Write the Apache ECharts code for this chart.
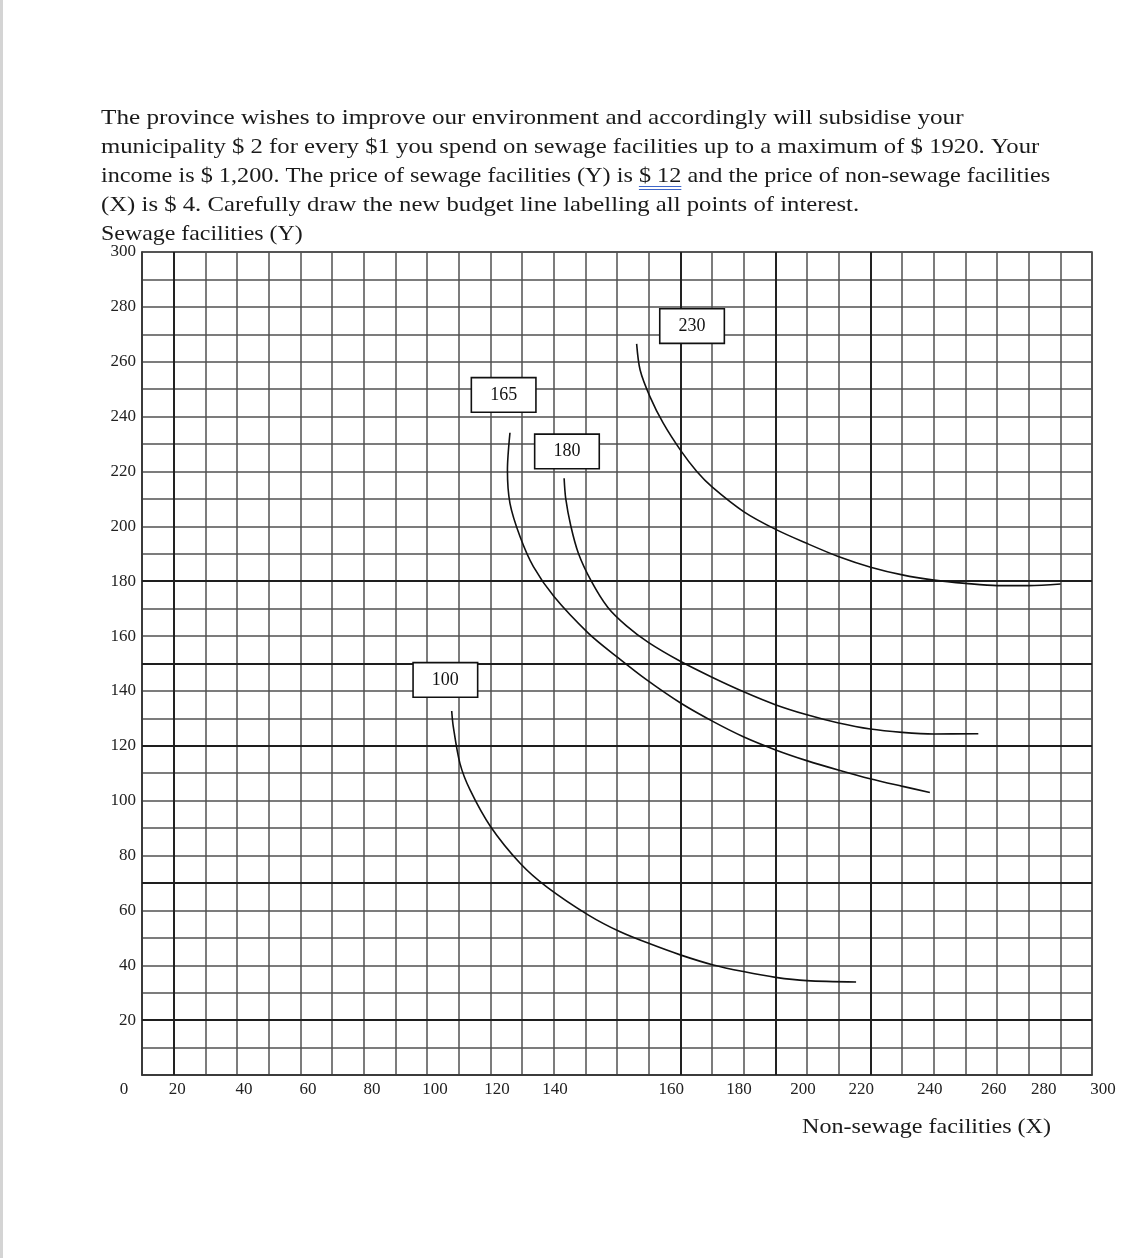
<!DOCTYPE html>
<html>
<head>
<meta charset="utf-8">
<script src="https://cdn.jsdelivr.net/npm/echarts@6/dist/echarts.min.js"></script>
<style>
  html, body { margin: 0; padding: 0; background: #fff; }
  #chart { width: 1144px; height: 1258px; }
</style>
</head>
<body>
<div id="chart"></div>
<script>
// ---- data ----
const titleLines = [
  'The province wishes to improve our environment and accordingly will subsidise your',
  'municipality $ 2 for every $1 you spend on sewage facilities up to a maximum of $ 1920. Your',
  'income is $ 1,200. The price of sewage facilities (Y) is $ 12 and the price of non-sewage facilities',
  '(X) is $ 4. Carefully draw the new budget line labelling all points of interest.',
  'Sewage facilities (Y)'
];
const underlinedText = '$ 12';
const xAxisTitle = 'Non-sewage facilities (X)';

// x tick labels as printed, and where they sit along the x scale
const xTickLabels = ['0', '20', '40', '60', '80', '100', '120', '140', '160', '180', '200', '220', '240', '260', '280', '300'];
const xTickAt = [-5.7, 11.1, 32.2, 52.4, 72.6, 92.5, 112.1, 130.4, 167.1, 188.5, 208.7, 227.1, 248.8, 269.0, 284.8, 303.5];

// heavier grid lines
const darkX = [10, 170, 200, 230];
const darkY = [20, 70, 120, 150, 180];

// indifference curves [x, y]
const curve100 = [[97.8,132.7],[98.3,127.0],[100.4,113.6],[103.6,103.9],[110.1,90.5],[119.4,77.2],[127.8,68.6],[141.0,58.3],[151.0,52.2],[160.4,47.8],[170.2,43.7],[180.4,40.1],[189.9,37.7],[200.1,35.6],[209.9,34.4],[225.5,33.9]];
const curve165 = [[116.2,234.1],[115.4,220.5],[116.2,208.4],[119.4,196.2],[123.6,185.3],[130.1,174.4],[141.0,161.0],[149.9,152.5],[159.4,144.0],[170.2,135.5],[180.4,128.8],[189.9,123.3],[200.1,118.5],[209.9,114.6],[220.4,111.0],[229.9,108.0],[239.9,105.3],[248.8,103.0]];
const curve180 = [[133.3,217.5],[133.8,210.2],[135.4,200.2],[137.8,190.2],[141.8,180.2],[147.0,170.6],[153.0,163.7],[160.0,157.6],[170.0,150.8],[180.0,145.0],[190.0,139.7],[200.0,135.0],[210.0,131.3],[220.0,128.3],[230.0,126.1],[240.0,124.9],[250.0,124.3],[264.1,124.4]];
const curve230 = [[156.2,266.5],[157.3,257.0],[160.4,247.3],[164.6,237.6],[170.2,227.5],[175.2,220.0],[180.1,214.3],[190.1,205.3],[200.1,198.9],[209.9,193.8],[220.1,188.9],[230.1,185.1],[240.1,182.3],[250.1,180.4],[260.1,179.2],[270.1,178.4],[280.1,178.4],[290.1,179.0]];

// curve value labels (boxes) and their anchor points
const boxLabels = ['100', '165', '180', '230'];
const boxAt = [[95.8,144.0],[114.2,247.9],[134.2,227.3],[173.7,273.0]];

// ---- chart ----
const chart = echarts.init(document.getElementById('chart'), null, { renderer: 'canvas' });
const serif = '"Liberation Serif", "DejaVu Serif", serif';
const titleFont = '22px ' + serif;
const lineScale = [1.145, 1.123, 1.102, 1.124, 1.086];
const titleX = 101, titleY = 104, titleLH = 29;

const graphics = [
  { type: 'rect', shape: { x: 0, y: 0, width: 3, height: 1258 }, style: { fill: '#d4d4d4' }, silent: true }
];
titleLines.forEach((t, i) => {
  graphics.push({
    type: 'text', x: titleX, y: titleY + i * titleLH, scaleX: lineScale[i], silent: true,
    style: { text: t, font: titleFont, fill: '#1a1a1a', lineHeight: titleLH, verticalAlign: 'top', align: 'left' }
  });
});
// blue double underline under the marked amount (line 3)
(function () {
  const ctx = document.createElement('canvas').getContext('2d');
  ctx.font = titleFont;
  const li = 2, t = titleLines[li];
  const idx = t.indexOf(underlinedText);
  const x1 = titleX + ctx.measureText(t.slice(0, idx)).width * lineScale[li];
  const x2 = x1 + ctx.measureText(underlinedText).width * lineScale[li];
  const yb = titleY + li * titleLH;
  [24, 27].forEach(dy => graphics.push({
    type: 'line', shape: { x1: x1, y1: yb + dy + 0.5, x2: x2, y2: yb + dy + 0.5 },
    style: { stroke: '#3f66c9', lineWidth: 1.2 }, silent: true
  }));
})();
graphics.push({
  type: 'text', x: 802, y: 1127, scaleX: 1.148, silent: true,
  style: { text: xAxisTitle, font: '21px ' + serif, fill: '#1a1a1a', verticalAlign: 'middle', align: 'left' }
});

function curveSeries(name, pts) {
  return {
    name: name, type: 'line', data: pts, smooth: 0.3, showSymbol: false, silent: true,
    lineStyle: { color: '#111', width: 1.6 }, z: 5, animation: false
  };
}

const option = {
  backgroundColor: '#fff',
  animation: false,
  grid: { left: 142, top: 252, width: 950, height: 823, show: true, borderColor: '#333', borderWidth: 1.5, backgroundColor: '#fff' },
  xAxis: {
    type: 'value', min: 0, max: 300, interval: 10,
    axisLine: { show: true, lineStyle: { color: '#333', width: 1.5 } },
    axisTick: { show: false },
    axisLabel: { show: false },
    splitLine: { show: true, lineStyle: { color: '#505050', width: 1.5 } }
  },
  yAxis: {
    type: 'value', min: 0, max: 300, interval: 10,
    axisLine: { show: true, lineStyle: { color: '#333', width: 1.5 } },
    axisTick: { show: false },
    axisLabel: {
      margin: 6, fontFamily: serif, fontSize: 17, color: '#222',
      formatter: v => (v > 0 && v % 20 === 0) ? String(v) : ''
    },
    splitLine: { show: true, lineStyle: { color: '#505050', width: 1.5 } }
  },
  graphic: graphics,
  series: [
    {
      name: 'heavy grid', type: 'line', data: [], silent: true, z: 2,
      markLine: {
        silent: true, symbol: ['none', 'none'], label: { show: false }, animation: false,
        lineStyle: { color: '#1e1e1e', width: 1.9, type: 'solid' },
        data: darkX.map(v => ({ xAxis: v })).concat(darkY.map(v => ({ yAxis: v })))
      }
    },
    curveSeries('100', curve100),
    curveSeries('165', curve165),
    curveSeries('180', curve180),
    curveSeries('230', curve230),
    {
      name: 'boxes', type: 'scatter', symbolSize: 0, silent: true, z: 6,
      itemStyle: { opacity: 1 },
      data: boxAt.map((p, i) => ({ value: p, name: boxLabels[i] })),
      label: {
        show: true, position: 'inside', formatter: p => p.name, opacity: 1,
        fontFamily: serif, fontSize: 18, color: '#111',
        backgroundColor: '#fff', borderColor: '#111', borderWidth: 1.6,
        padding: [8, 18, 7, 18]
      }
    },
    {
      name: 'x ticks', type: 'scatter', symbolSize: 0, silent: true, clip: false, z: 6,
      itemStyle: { opacity: 1 },
      data: xTickAt.map((x, i) => ({ value: [x, 0], name: xTickLabels[i] })),
      label: {
        show: true, position: 'inside', offset: [0, 15], formatter: p => p.name, opacity: 1,
        fontFamily: serif, fontSize: 17, color: '#222'
      }
    }
  ]
};
chart.setOption(option);
</script>
</body>
</html>
